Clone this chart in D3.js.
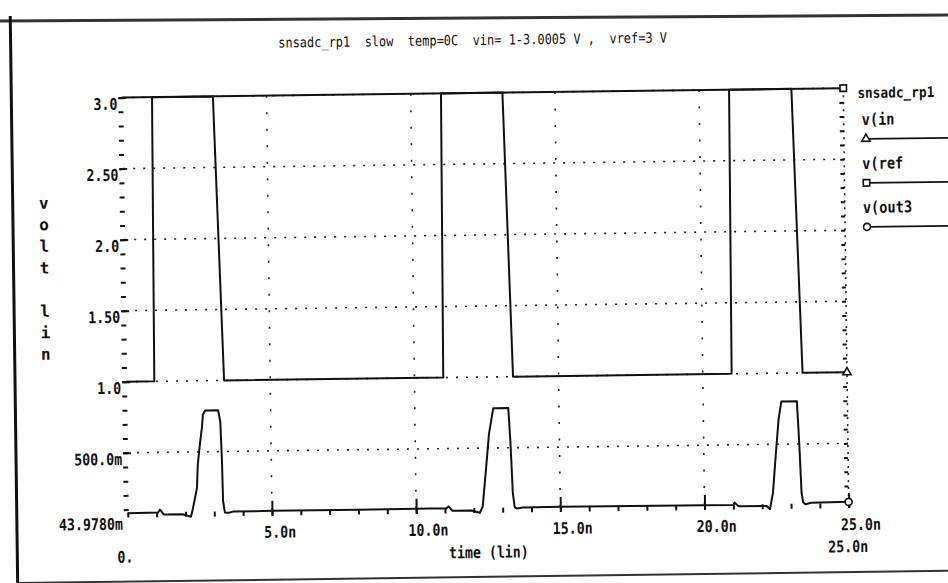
<!DOCTYPE html>
<html>
<head>
<meta charset="utf-8">
<title>snsadc_rp1 slow temp=0C</title>
<style>
  body { margin: 0; background: #fff; }
  svg text { font-family: "DejaVu Sans Mono", "Liberation Mono", monospace; fill: #111; font-weight: bold; white-space: pre; }
  .grid { stroke: #222; stroke-width: 1.6; fill: none; }
  .wave { fill: none; stroke: #111; stroke-width: 2; stroke-linejoin: round; }
  .tick line { stroke: #111; stroke-width: 2; }
  .mark { fill: #fff; stroke: #111; stroke-width: 1.6; }
</style>
<script src="https://d3js.org/d3.v7.min.js"></script>
</head>
<body>
<svg width="948" height="583"></svg>
<script>
// plot text
var title = "snsadc_rp1  slow  temp=0C  vin= 1-3.0005 V ,  vref=3 V";
var yTitle = "volt lin";
var xTitle = "time (lin)";
var legendTitle = "snsadc_rp1";
var seriesNames = ["v(in", "v(ref", "v(out3"];

// axes
var yMin = 0.043978, yMax = 3.0;
var xMin = 0, xMax = 25;            // ns
var yTickValues = [3.0, 2.5, 2.0, 1.5, 1.0, 0.5];
var yTickLabels = ["3.0", "2.50", "2.0", "1.50", "1.0", "500.0m"];
var yMinLabel = "43.9780m";
var xTickValues = [5, 10, 15, 20, 25];
var xTickLabels = ["5.0n", "10.0n", "15.0n", "20.0n", "25.0n"];
var xMinLabel = "0.", xMaxLabel = "25.0n";

// v(in : time (ns) / volts
var vinT = [0, 0.98, 1.03, 3.14, 3.40, 11.0, 11.05, 13.18, 13.42, 21.0, 21.04, 23.2, 23.46, 25];
var vinV = [1.0, 1.0, 3.0, 3.0, 1.0, 1.0, 3.0, 3.0, 1.0, 1.0, 3.0, 3.0, 1.0, 1.0];

// v(ref
var vrefT = [0, 25];
var vrefV = [3.0, 3.0];

// v(out3
var out3T = [0, 1.05, 1.12, 1.2, 1.25, 1.9, 2.19, 2.26, 2.41, 2.45, 2.53, 2.61, 2.65, 2.73,
             3.18, 3.25, 3.29, 3.31, 3.37, 3.5, 3.65, 5, 8, 10.5,
             11.05, 11.12, 11.2, 11.25, 11.92, 12.21, 12.31, 12.44, 12.56, 12.72,
             13.24, 13.30, 13.36, 13.42, 13.5, 13.7, 15, 20,
             21.0, 21.05, 21.15, 21.2, 22.15, 22.27, 22.38, 22.5, 22.61, 22.71,
             23.25, 23.31, 23.37, 23.42, 23.5, 23.7, 25];
var out3V = [0.075, 0.077, 0.097, 0.075, 0.062, 0.062, 0.044, 0.10, 0.245, 0.41, 0.55, 0.67, 0.76, 0.79,
             0.79, 0.71, 0.43, 0.15, 0.07, 0.068, 0.076, 0.078, 0.078, 0.08,
             0.078, 0.093, 0.075, 0.062, 0.062, 0.045, 0.09, 0.35, 0.60, 0.78,
             0.78, 0.54, 0.18, 0.08, 0.072, 0.079, 0.08, 0.078,
             0.077, 0.093, 0.072, 0.067, 0.067, 0.044, 0.16, 0.44, 0.68, 0.80,
             0.80, 0.52, 0.16, 0.09, 0.075, 0.085, 0.088];

var svg = d3.select("svg");

// scanned sheet edge on top
svg.append("line").attr("x1", 0).attr("y1", 21).attr("x2", 948).attr("y2", 15)
    .attr("stroke", "#333").attr("stroke-width", 3);

// the whole sheet is a little tilted in the scan
var g = svg.append("g").attr("transform", "rotate(-0.75,474,300)");

var x = d3.scaleLinear().domain([xMin, xMax]).range([125, 846]);
var y = d3.scaleLinear().domain([yMin, yMax]).range([513, 93]);

function putText(sel, str, px, py, anchor, size, cw) {
    return sel.append("text")
        .attr("x", px).attr("y", py)
        .attr("text-anchor", anchor)
        .attr("font-size", size)
        .attr("textLength", str.length * cw)
        .attr("lengthAdjust", "spacingAndGlyphs")
        .text(str);
}

// frame
g.append("line").attr("x1", 14).attr("y1", 10).attr("x2", 14).attr("y2", 600)
    .attr("stroke", "#111").attr("stroke-width", 3);
g.append("line").attr("x1", 14).attr("y1", 577).attr("x2", 980).attr("y2", 577)
    .attr("stroke", "#333").attr("stroke-width", 2);

// title
putText(g, title, 476, 45, "middle", 14, 7.2).style("font-weight", "normal");

// dotted grid
g.append("g").selectAll("line").data(yTickValues).enter().append("line")
    .attr("class", "grid")
    .attr("x1", x(xMin)).attr("x2", x(xMax))
    .attr("y1", function (d) { return y(d); }).attr("y2", function (d) { return y(d); })
    .attr("stroke-dasharray", "2,8");
g.append("g").selectAll("line").data(xTickValues.slice(0, 4)).enter().append("line")
    .attr("class", "grid")
    .attr("x1", function (d) { return x(d); }).attr("x2", function (d) { return x(d); })
    .attr("y1", y(yMax)).attr("y2", y(yMin))
    .attr("stroke-dasharray", "2,14.5");
// right axis, dotted
g.append("line").attr("class", "grid")
    .attr("x1", x(xMax)).attr("x2", x(xMax)).attr("y1", y(yMax)).attr("y2", y(yMin))
    .attr("stroke-dasharray", "2,5");

// ticks (no axis line, only marks)
function ticksOnly(axis, tx, ty) {
    var a = g.append("g").attr("transform", "translate(" + tx + "," + ty + ")").call(axis);
    a.select(".domain").remove();
    a.selectAll("text").remove();
    return a;
}
ticksOnly(d3.axisLeft(y).ticks(30).tickSize(5), 126, 0);
ticksOnly(d3.axisLeft(y).tickValues(yTickValues).tickSize(8), 129, 0);
ticksOnly(d3.axisLeft(y).ticks(30).tickSize(4), x(xMax), 0);
ticksOnly(d3.axisTop(x).ticks(25).tickSize(5), 0, y(yMin));
ticksOnly(d3.axisTop(x).tickValues(xTickValues).tickSize(15), 0, y(yMin));

// y labels
yTickValues.forEach(function (v, i) {
    putText(g, yTickLabels[i], 120, y(v) + 12, "end", 16, 8);
});
putText(g, yMinLabel, 120, y(yMin) + 12, "end", 16, 8);

// x labels
xTickValues.forEach(function (v, i) {
    putText(g, xTickLabels[i], x(v) - 8, 535, "start", 16, 8);
});
putText(g, xMinLabel, x(xMin) - 11, 558, "start", 16, 8);
putText(g, xMaxLabel, x(xMax) + 19, 557, "end", 16, 8);
putText(g, xTitle, (x(xMin) + x(xMax)) / 2, 558, "middle", 16, 8);

// y title, one letter per row
yTitle.split("").forEach(function (c, i) {
    if (c === " ") return;
    g.append("text").attr("x", 45).attr("y", 203 + i * 21.6)
        .attr("text-anchor", "middle").attr("font-size", 16).text(c);
});

// waves
var line = d3.line()
    .x(function (d) { return x(d[0]); })
    .y(function (d) { return y(d[1]); });
function zip(a, b) { return a.map(function (t, i) { return [t, b[i]]; }); }

var series = [
    { name: seriesNames[0], pts: zip(vinT, vinV), sym: d3.symbolTriangle, size: 30 },
    { name: seriesNames[1], pts: zip(vrefT, vrefV), sym: d3.symbolSquare, size: 42 },
    { name: seriesNames[2], pts: zip(out3T, out3V), sym: d3.symbolCircle, size: 38 }
];

g.append("g").selectAll("path").data(series).enter().append("path")
    .attr("class", "wave")
    .attr("d", function (d) { return line(d.pts); });

// end markers
g.append("g").selectAll("path").data(series).enter().append("path")
    .attr("class", "mark")
    .attr("transform", function (d) {
        var p = d.pts[d.pts.length - 1];
        return "translate(" + x(p[0]) + "," + y(p[1]) + ")";
    })
    .attr("d", function (d) { return d3.symbol().type(d.sym).size(d.size)(); });

// legend
putText(g, legendTitle, 860, 103, "start", 14.5, 7.7);
series.forEach(function (s, i) {
    var ly = 144 + i * 44;
    putText(g, s.name, 864, ly - 14, "start", 16, 8.2);
    g.append("line").attr("x1", 868).attr("x2", 980).attr("y1", ly).attr("y2", ly)
        .attr("stroke", "#111").attr("stroke-width", 1.8);
    g.append("path").attr("class", "mark")
        .attr("transform", "translate(868," + ly + ")")
        .attr("d", d3.symbol().type(s.sym).size(s.size)());
});
</script>
</body>
</html>
